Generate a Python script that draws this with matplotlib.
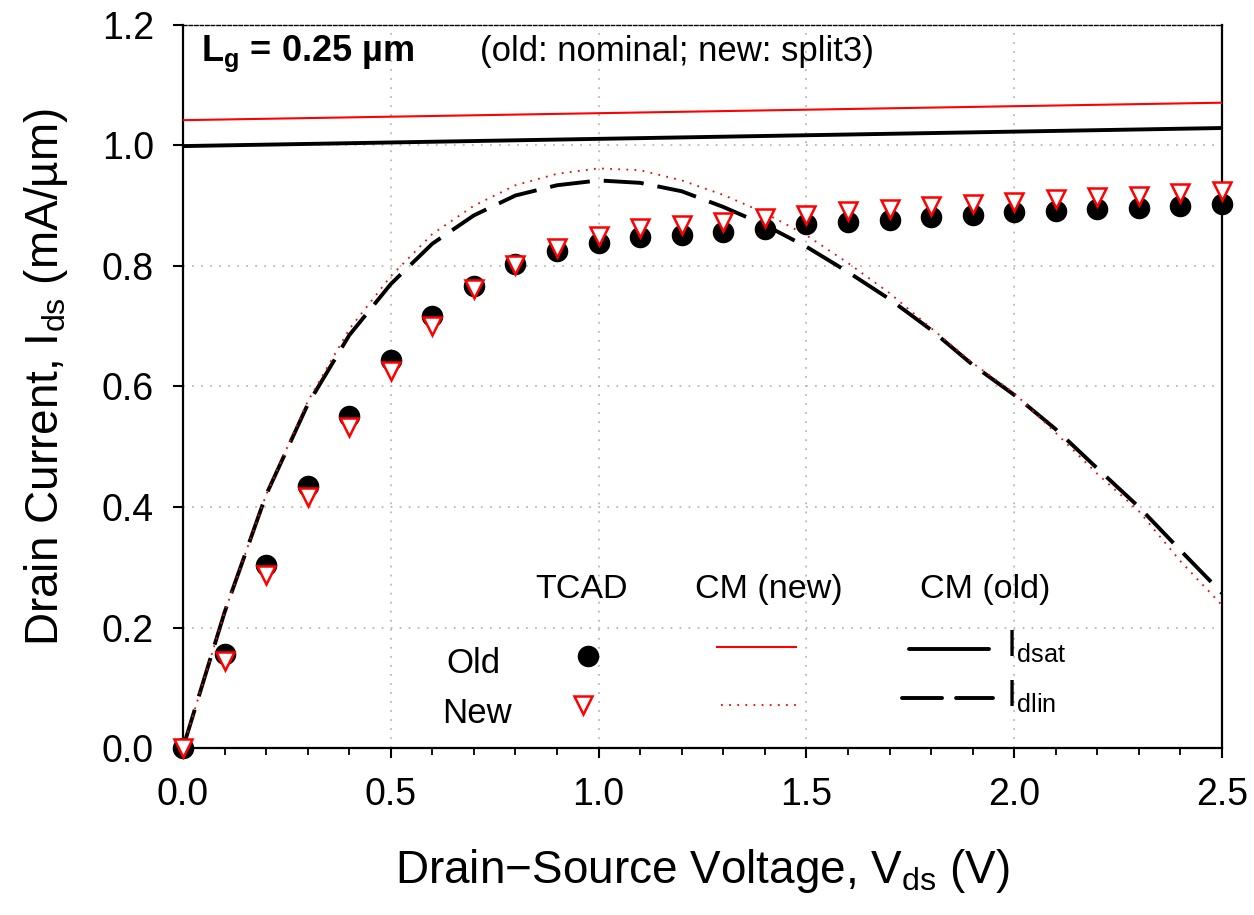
import matplotlib
matplotlib.use("Agg")
import matplotlib.pyplot as plt
from matplotlib.ticker import MultipleLocator

plt.rcParams['font.family'] = ['Liberation Sans', 'DejaVu Sans']
plt.rcParams['mathtext.fontset'] = 'custom'
plt.rcParams['mathtext.rm'] = 'Liberation Sans'
plt.rcParams['mathtext.it'] = 'Liberation Sans:italic'
plt.rcParams['mathtext.bf'] = 'Liberation Sans:bold'

# ---- data ----
vds_tcad = [0.0, 0.1, 0.2, 0.3, 0.4, 0.5, 0.6, 0.7, 0.8, 0.9, 1.0, 1.1, 1.2,
            1.3, 1.4, 1.5, 1.6, 1.7, 1.8, 1.9, 2.0, 2.1, 2.2, 2.3, 2.4, 2.5]
tcad_old = [0.0, 0.156, 0.304, 0.435, 0.551, 0.644, 0.717, 0.767, 0.803, 0.825,
            0.838, 0.848, 0.852, 0.857, 0.862, 0.869, 0.873, 0.877, 0.881, 0.885,
            0.889, 0.892, 0.895, 0.897, 0.900, 0.903]
tcad_new = [0.0, 0.144, 0.287, 0.417, 0.533, 0.625, 0.701, 0.761, 0.802, 0.830,
            0.850, 0.863, 0.868, 0.873, 0.880, 0.885, 0.891, 0.895, 0.899, 0.903,
            0.906, 0.911, 0.914, 0.916, 0.921, 0.925]

vds_cm = [0.0, 0.1, 0.2, 0.3, 0.4, 0.5, 0.6, 0.7, 0.8, 0.9, 1.0, 1.1, 1.2,
          1.3, 1.4, 1.5, 1.6, 1.7, 1.8, 1.9, 2.0, 2.1, 2.2, 2.3, 2.4, 2.5]
idlin_old = [0.0, 0.225, 0.420, 0.570, 0.685, 0.770, 0.837, 0.884, 0.917, 0.934,
             0.942, 0.938, 0.924, 0.898, 0.868, 0.832, 0.790, 0.745, 0.694, 0.636,
             0.586, 0.529, 0.464, 0.400, 0.328, 0.257]
idlin_new = [0.0, 0.225, 0.420, 0.575, 0.695, 0.783, 0.853, 0.900, 0.934, 0.953,
             0.962, 0.959, 0.942, 0.918, 0.888, 0.851, 0.805, 0.755, 0.697, 0.639,
             0.589, 0.523, 0.455, 0.393, 0.310, 0.237]

vds_sat = [0.0, 2.5]
idsat_new = [1.042, 1.071]
idsat_old = [0.999, 1.029]

xticks = [0.0, 0.5, 1.0, 1.5, 2.0, 2.5]
yticks = [0.0, 0.2, 0.4, 0.6, 0.8, 1.0, 1.2]

# ---- figure ----
fig = plt.figure(figsize=(12.54, 9.15), dpi=100)
ax = fig.add_axes([0.1459, 0.1825, 0.8286, 0.7902])

ax.set_xlim(0, 2.5)
ax.set_ylim(0, 1.2)

ax.grid(True, which='major', color='#b8b8b8', linestyle=(0, (1, 4)), linewidth=1.3)
ax.set_axisbelow(True)

DASH = (10.3, 3.6)
DOT = (1, 3.5)

# CM lines
ax.plot(vds_sat, idsat_new, color='red', lw=1.5, zorder=3)
ax.plot(vds_sat, idsat_old, color='black', lw=2.8, zorder=3)
ax.plot(vds_cm, idlin_old, color='black', lw=2.8, dashes=DASH, zorder=3)
ax.plot(vds_cm, idlin_new, color='red', lw=1.3, dashes=DOT, zorder=4)

# TCAD markers
ax.plot(vds_tcad, tcad_old, linestyle='none', marker='o', ms=14.5, color='black',
        zorder=5, clip_on=False)
ax.plot(vds_tcad, tcad_new, linestyle='none', marker='v', ms=12.5, mfc='white',
        mec='red', mew=1.8, zorder=6, clip_on=False)

# spines and ticks
for s in ['left', 'bottom', 'right']:
    ax.spines[s].set_linewidth(1.6)
ax.spines['top'].set_linewidth(1.0)
ax.spines['top'].set_linestyle((0, (2.5, 1.5)))

ax.set_xticks(xticks)
ax.set_xticklabels([f"{v:.1f}" for v in xticks])
ax.set_yticks(yticks)
ax.set_yticklabels([f"{v:.1f}" for v in yticks])
ax.xaxis.set_minor_locator(MultipleLocator(0.1))
ax.tick_params(axis='x', which='major', direction='out', length=7, width=1.5,
               labelsize=27, pad=14, top=False)
ax.tick_params(axis='x', which='minor', direction='out', length=5, width=1.3, top=False)
ax.tick_params(axis='y', which='major', direction='out', length=7, width=1.5,
               labelsize=27, pad=14, right=False)

ax.set_xlabel("Drain\u2212Source Voltage, V$_{\\rm ds}$ (V)", fontsize=33, labelpad=24)
ax.set_ylabel("Drain Current, I$_{\\rm ds}$ (mA/\u00b5m)", fontsize=33)
ax.yaxis.set_label_coords(-0.109, 0.513)

# annotations
ax.text(0.044, 1.1395, "L$_{\\bf g}$ = 0.25 \u00b5m", fontsize=26, fontweight='bold',
        ha='left', va='baseline')
ax.text(0.715, 1.1395, "(old: nominal; new: split3)", fontsize=25, ha='left',
        va='baseline')

# custom legend
ax.text(0.96, 0.249, "TCAD", fontsize=24.5, ha='center', va='baseline')
ax.text(1.41, 0.249, "CM (new)", fontsize=24.5, ha='center', va='baseline')
ax.text(1.93, 0.249, "CM (old)", fontsize=24.5, ha='center', va='baseline')

ax.text(0.70, 0.124, "Old", fontsize=25, ha='center', va='baseline')
ax.text(0.707, 0.042, "New", fontsize=25, ha='center', va='baseline')
ax.plot([0.975], [0.152], linestyle='none', marker='o', ms=14.5, color='black', zorder=5)
ax.plot([0.963], [0.071], linestyle='none', marker='v', ms=12.5, mfc='white',
        mec='red', mew=1.8, zorder=6)

ax.plot([1.284, 1.474], [0.167, 0.167], color='red', lw=1.5)
ax.plot([1.294, 1.482], [0.071, 0.071], color='red', lw=1.3, dashes=DOT)
ax.plot([1.747, 1.940], [0.165, 0.165], color='black', lw=2.8, solid_capstyle='round')
ax.plot([1.730, 1.948], [0.083, 0.083], color='black', lw=2.8, dashes=DASH,
        dash_capstyle='round')

ax.text(1.98, 0.152, "I$_{\\rm dsat}$", fontsize=26, ha='left', va='baseline')
ax.text(1.98, 0.069, "I$_{\\rm dlin}$", fontsize=26, ha='left', va='baseline')

fig.savefig("out.png", dpi=100)
